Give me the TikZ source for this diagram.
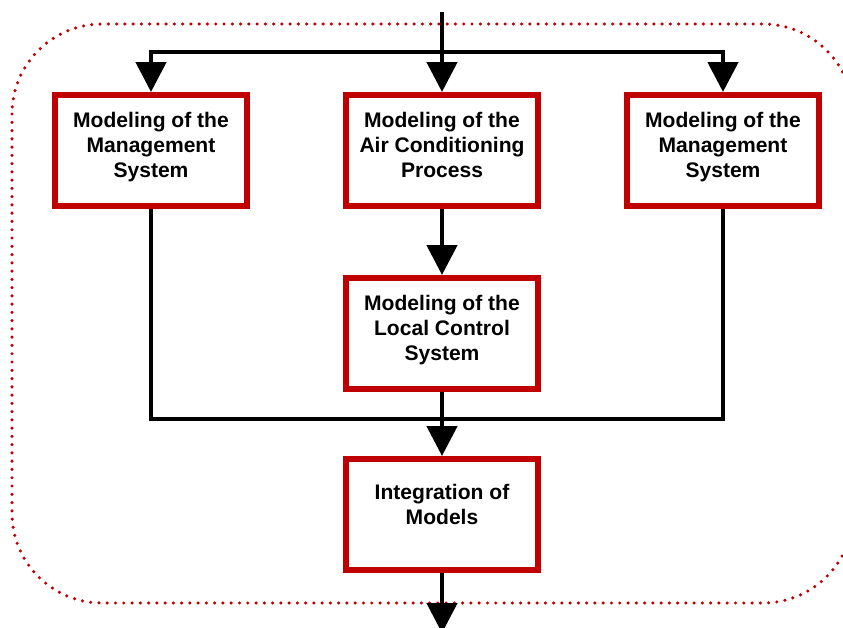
\documentclass[tikz,border=0pt]{standalone}
\usepackage{fontspec}
\setmainfont{Liberation Sans}
\usetikzlibrary{arrows.meta}
\definecolor{boxred}{RGB}{192,0,0}
\tikzset{
  modelbox/.style={draw=boxred, line width=4.5pt, fill=white, minimum width=144pt, minimum height=83.25pt,
    inner sep=0pt, align=center, font=\fontsize{15.8}{18.75}\selectfont\bfseries},
  flow/.style={line width=3.5pt},
  flowarrow/.style={flow, -{Triangle[width=22.5pt,length=22.5pt]}},
  frame/.style={draw=boxred, line width=2.6pt, dash pattern=on 0pt off 6.2pt, line cap=round, rounded corners=67.5pt}
}
\begin{document}
\begin{tikzpicture}[x=0.75pt,y=0.75pt,yscale=-1,xscale=1]
\useasboundingbox (0,0) rectangle (843,628);

%Shape: dotted frame
\draw[frame] (12,24) rectangle (853,603);

%Boxes
\node[modelbox, text depth=9pt] (mgmtL) at (151,150.5) {Modeling of the\\Management\\System};
\node[modelbox, text depth=9pt] (acproc) at (442,150.5) {Modeling of the\\Air Conditioning\\Process};
\node[modelbox, text depth=9pt] (mgmtR) at (723,150.5) {Modeling of the\\Management\\System};
\node[modelbox, text depth=9pt] (localctrl) at (442,333.5) {Modeling of the\\Local Control\\System};
\node[modelbox, text depth=15pt] (integ) at (442,514.5) {Integration of\\Models};

%Branch points
\coordinate (feed) at (442,12);
\coordinate (split) at (442,52);
\coordinate (merge) at (442,419);
\coordinate (output) at (442,633);

%Straight Lines: input
\draw[flowarrow] (feed) -- (acproc);
\draw[flowarrow] (split) -| (mgmtL);
\draw[flowarrow] (split) -| (mgmtR);

%Straight Lines: middle
\draw[flowarrow] (acproc) -- (localctrl);
\draw[flow] (mgmtL) |- (merge) -| (mgmtR);
\draw[flowarrow] (localctrl) -- (integ);

%Straight Lines: output
\draw[flowarrow] (integ) -- (output);

\end{tikzpicture}
\end{document}
